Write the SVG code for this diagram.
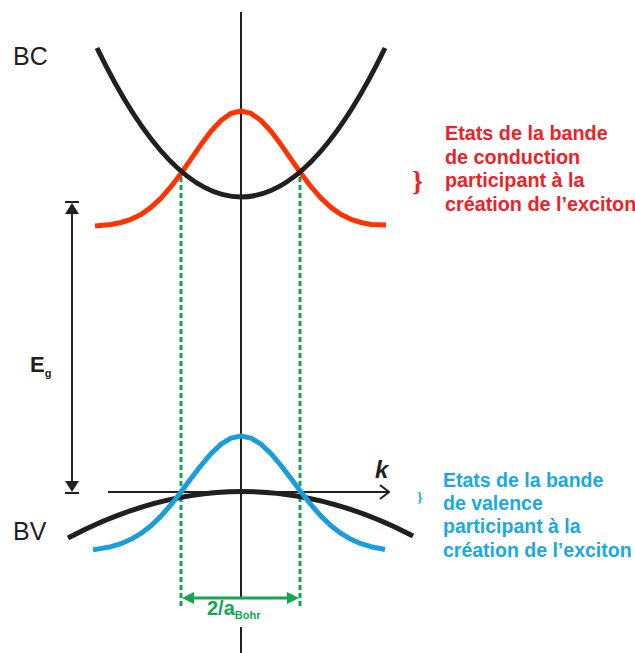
<svg xmlns="http://www.w3.org/2000/svg" width="635" height="653" viewBox="0 0 635 653">
<style>
.ax{stroke:#231f20;stroke-width:2;fill:none}
.band{stroke:#231f20;stroke-width:5;fill:none;stroke-linecap:butt}
.red{stroke:#ff3300;stroke-width:5;fill:none;stroke-linejoin:round}
.blue{stroke:#1a9edb;stroke-width:5;fill:none;stroke-linejoin:round}
.gd{stroke:#12a650;stroke-width:3;stroke-dasharray:5,3;fill:none}
.lbl{font-family:"Liberation Sans",Arial,sans-serif;fill:#231f20}
.rt{font-family:"Liberation Sans",Arial,sans-serif;font-weight:bold;font-size:19.8px;fill:#ec2229}
.bt{font-family:"Liberation Sans",Arial,sans-serif;font-weight:bold;font-size:19.5px;fill:#19a9e5}
</style>
<rect width="635" height="653" fill="#ffffff"/>
<g id="connectors">
<line class="ax" x1="241" y1="12" x2="241" y2="598"/>
<line class="ax" x1="241" y1="627" x2="241" y2="653"/>
<line class="ax" x1="108" y1="492" x2="388" y2="492"/>
<polyline class="ax" points="380,485 389,492 380,499"/>
<line class="ax" x1="72" y1="208" x2="72" y2="486"/>
<line class="ax" x1="65" y1="202" x2="79" y2="202"/>
<polygon points="72,203 65,214 79,214" fill="#231f20"/>
<line class="ax" x1="65" y1="493" x2="79" y2="493"/>
<polygon points="72,492 65,481 79,481" fill="#231f20"/>
<line class="gd" x1="181" y1="177" x2="181" y2="606"/>
<line class="gd" x1="300" y1="177" x2="300" y2="606"/>
<line x1="190" y1="598" x2="291" y2="598" stroke="#12a650" stroke-width="3"/>
<polygon points="182,598 194,592 194,604" fill="#12a650"/>
<polygon points="299,598 287,592 287,604" fill="#12a650"/>
</g>
<g id="conduction-gaussian">
<polyline class="red" points="95,226 111,224.5 121,222.5 131,219.3 141,214.5 151,207.4 161,198.1 171,186.7 181,173.5 191,159.1 201,144.6 211,131.3 221,120.5 231,113.4 241,111 251,113.4 261,120.5 271,131.3 281,144.6 291,159.1 301,173.5 311,186.7 321,198.1 331,207.4 341,214.5 351,219.3 361,222.5 371,224.5 386,225"/>
</g>
<g id="conduction-band">
<path class="band" d="M97,48 Q241,346 385,48"/>
</g>
<g id="valence-band">
<path class="band" d="M68,538 Q241,446 413,536"/>
</g>
<g id="valence-gaussian">
<polyline class="blue" points="93,549.9 111,546.7 121,543.7 131,539.3 141,533.4 151,525.7 161,516.1 171,504.7 181,492 191,478.6 201,465.5 211,453.6 221,444.2 231,438.1 241,436 251,438.1 261,444.2 271,453.6 281,465.5 291,478.6 301,492 311,504.7 321,516.1 331,525.7 341,533.4 351,539.3 361,543.7 371,546.7 385,549.5"/>
</g>
<g id="labels">
<text class="lbl" x="13" y="65" font-size="25">BC</text>
<text class="lbl" x="13" y="540" font-size="25">BV</text>
<text class="lbl" x="375" y="478" font-size="24" font-style="italic" font-weight="bold">k</text>
<text class="lbl" x="30" y="372" font-size="22" font-weight="bold">E<tspan font-size="11" dy="5">g</tspan></text>
<text x="207" y="615" font-family="'Liberation Sans',Arial,sans-serif" font-weight="bold" font-size="20" fill="#12a650">2/a<tspan font-size="11" dy="4">Bohr</tspan></text>
</g>
<g id="conduction-text">
<text x="412" y="190" font-family="'Liberation Serif','Times New Roman',serif" font-size="28" font-weight="bold" fill="#ec2229">}</text>
<text class="rt" x="445" y="139.5">Etats de la bande</text>
<text class="rt" x="445" y="163.5">de conduction</text>
<text class="rt" x="445" y="187">participant à la</text>
<text class="rt" x="445" y="211">création de l’exciton</text>
</g>
<g id="valence-text">
<text x="417" y="502" font-family="'Liberation Serif','Times New Roman',serif" font-size="14" font-weight="bold" fill="#19a9e5">}</text>
<text class="bt" x="443" y="486.5">Etats de la bande</text>
<text class="bt" x="443" y="510">de valence</text>
<text class="bt" x="443" y="533">participant à la</text>
<text class="bt" x="443" y="556.5">création de l’exciton</text>
</g>
</svg>
